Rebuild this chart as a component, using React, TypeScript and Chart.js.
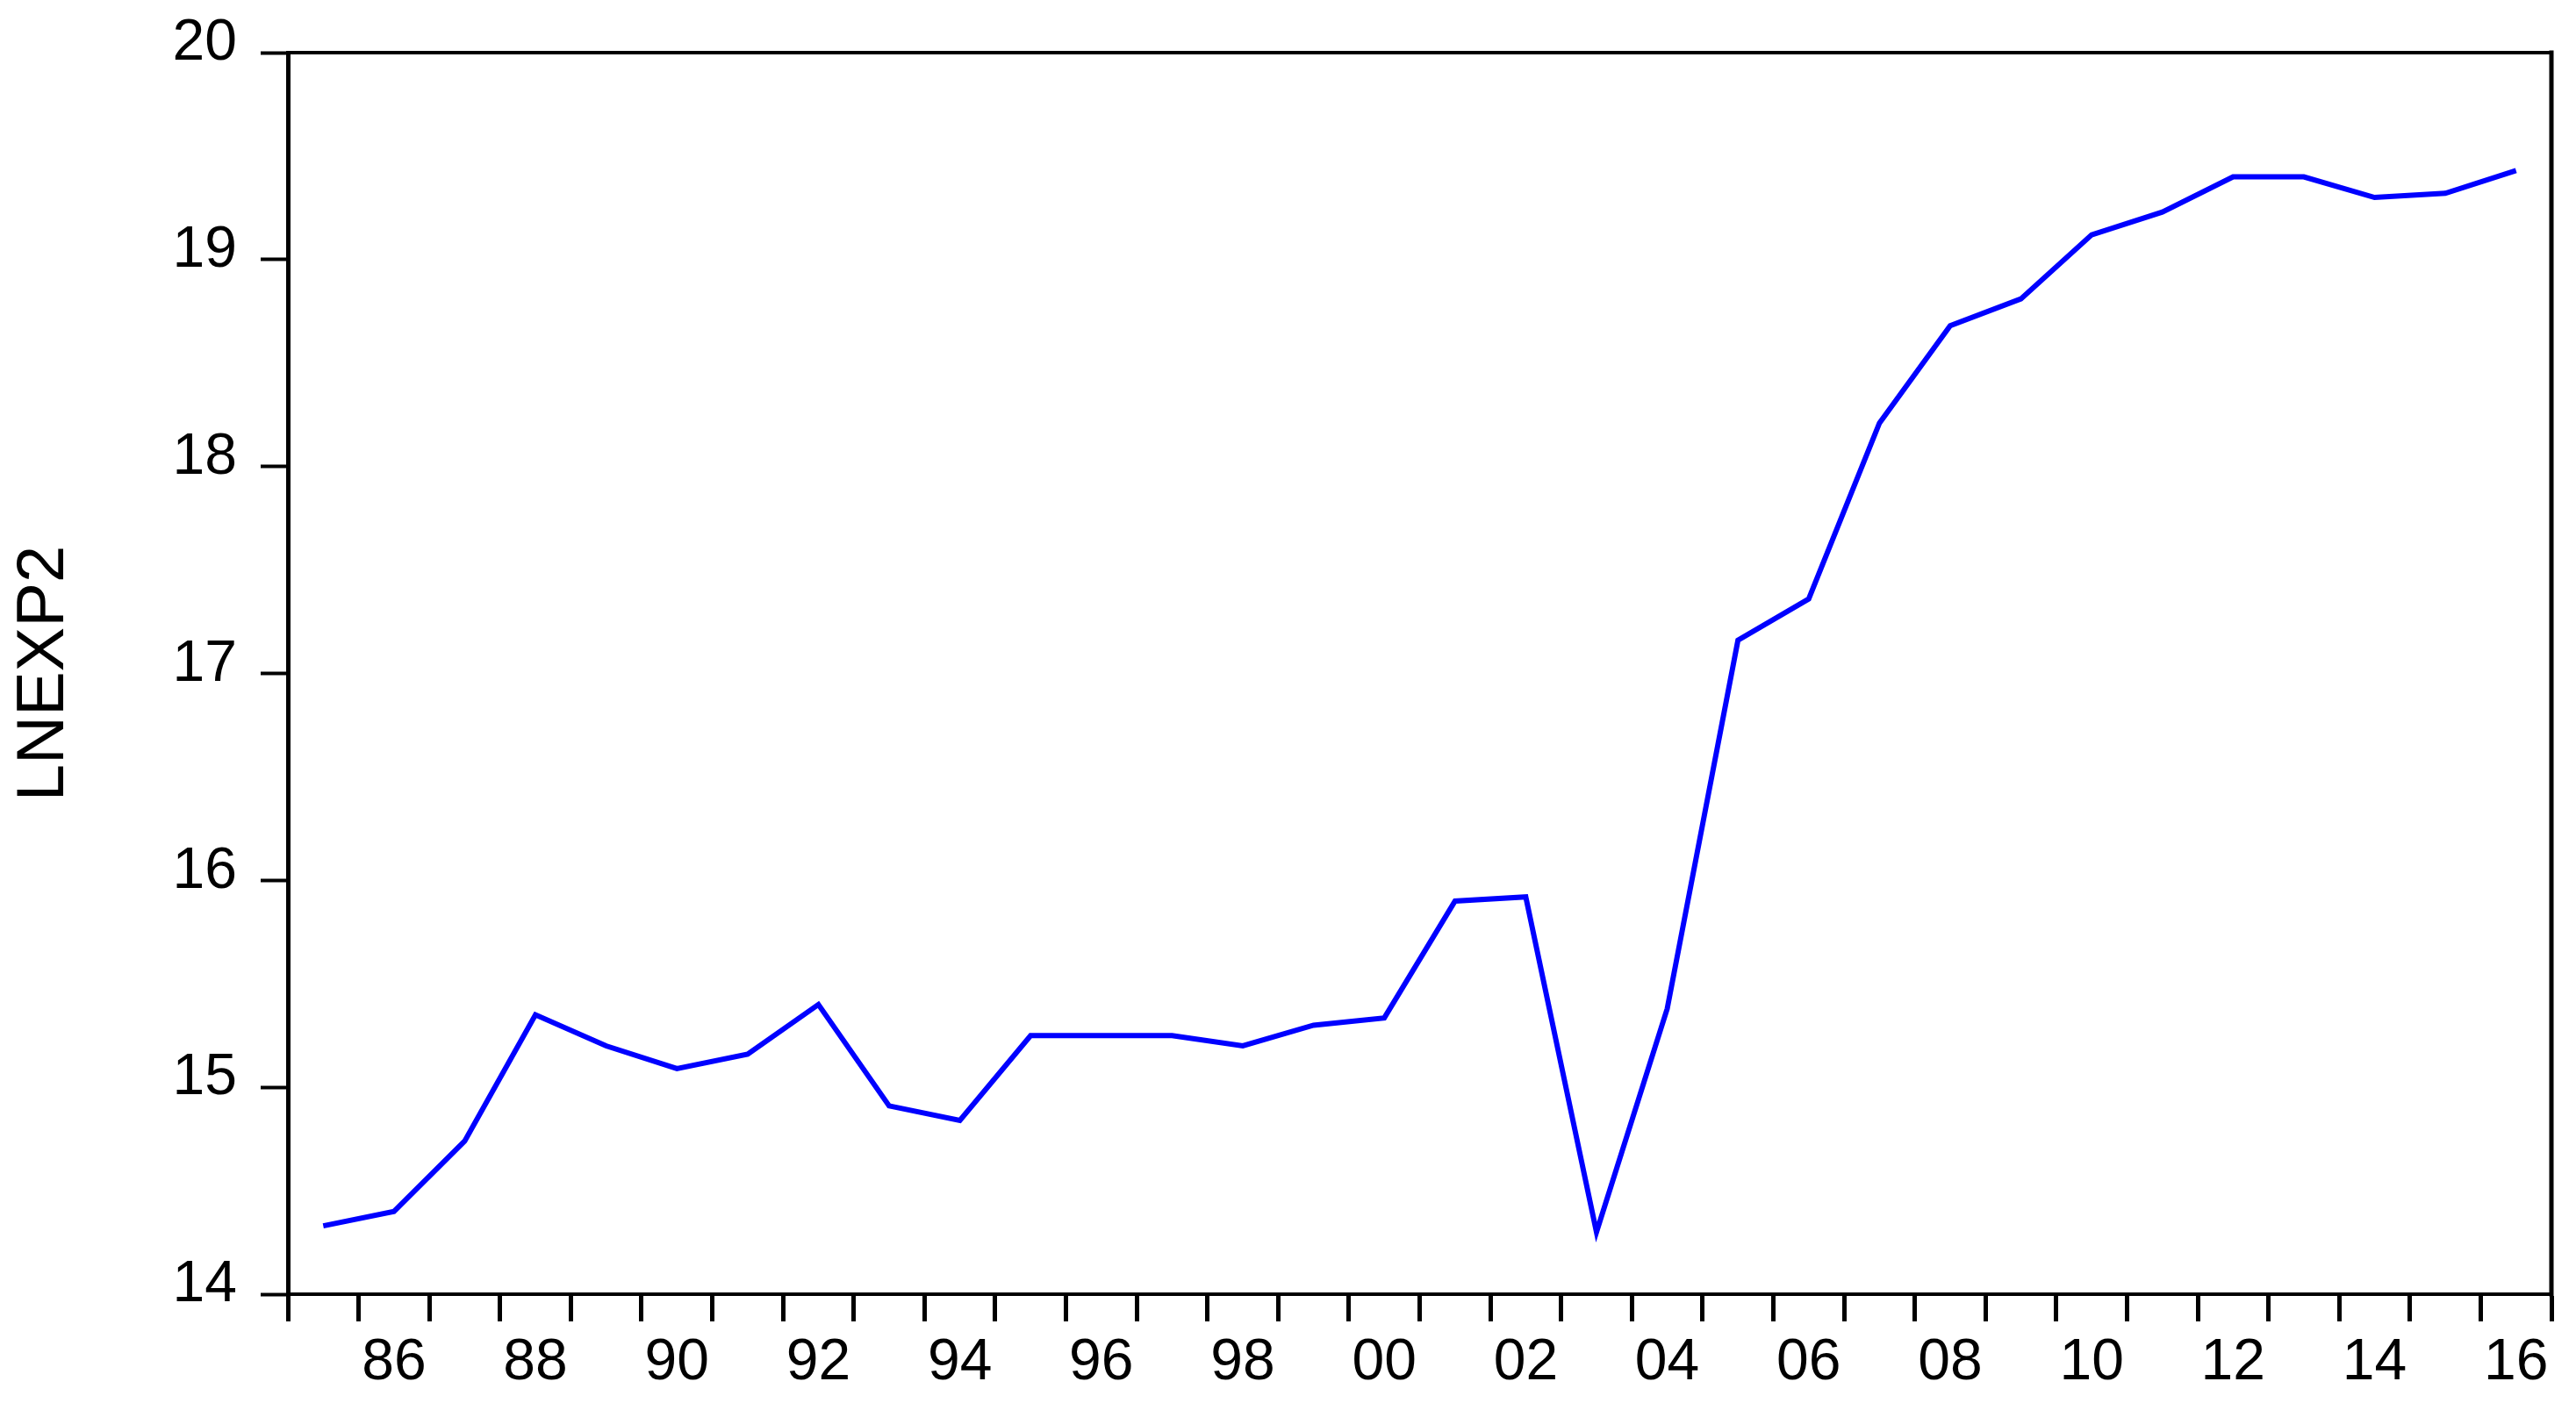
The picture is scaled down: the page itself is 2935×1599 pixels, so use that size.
import React, { useEffect, useRef } from "react";
import { Chart, registerables } from "chart.js";

Chart.register(...registerables);

const years: number[] = [
  1985, 1986, 1987, 1988, 1989, 1990, 1991, 1992, 1993, 1994, 1995, 1996,
  1997, 1998, 1999, 2000, 2001, 2002, 2003, 2004, 2005, 2006, 2007, 2008,
  2009, 2010, 2011, 2012, 2013, 2014, 2015, 2016,
];

const lnexp2: number[] = [
  14.33, 14.4, 14.74, 15.35, 15.2, 15.09, 15.16, 15.4, 14.91, 14.84, 15.25,
  15.25, 15.25, 15.2, 15.3, 15.335, 15.9, 15.92, 14.3, 15.38, 17.16, 17.36,
  18.21, 18.68, 18.81, 19.12, 19.23, 19.4, 19.4, 19.3, 19.32, 19.43,
];

const xTickYears: number[] = [
  1986, 1988, 1990, 1992, 1994, 1996, 1998, 2000, 2002, 2004, 2006, 2008,
  2010, 2012, 2014, 2016,
];

const yMin = 14;
const yMax = 20;
const yStep = 1;

const seriesName = "LNEXP2";

const FONT = "'Liberation Sans', Arial, Helvetica, sans-serif";

const framePlugin = {
  id: "frame",
  afterDatasetsDraw(chart: any) {
    const { ctx, chartArea } = chart;
    ctx.save();
    ctx.strokeStyle = "#000000";
    ctx.lineCap = "square";
    ctx.lineWidth = 4;
    ctx.beginPath();
    ctx.moveTo(chartArea.left, chartArea.top);
    ctx.lineTo(chartArea.right, chartArea.top);
    ctx.stroke();
    ctx.lineWidth = 5;
    ctx.beginPath();
    ctx.moveTo(chartArea.right, chartArea.top);
    ctx.lineTo(chartArea.right, chartArea.bottom);
    ctx.stroke();
    ctx.restore();
  },
};

export default function App() {
  const canvasRef = useRef<HTMLCanvasElement | null>(null);

  useEffect(() => {
    document.body.style.margin = "0";
    const canvas = canvasRef.current;
    if (!canvas) return;
    const chart = new Chart(canvas, {
      type: "line",
      data: {
        labels: years.map((y) => String(y)),
        datasets: [
          {
            label: seriesName,
            data: lnexp2,
            borderColor: "#0000ff",
            backgroundColor: "#0000ff",
            borderWidth: 6,
            pointRadius: 0,
            tension: 0,
            fill: false,
          },
        ],
      },
      options: {
        animation: false,
        responsive: false,
        devicePixelRatio: 1,
        layout: { padding: { top: 60, right: 28, left: 0, bottom: 0 } },
        plugins: {
          legend: { display: false },
          tooltip: { enabled: false },
        },
        scales: {
          x: {
            type: "category",
            offset: true,
            afterFit(scale: any) {
              scale.height = 124;
              scale.paddingLeft = 0;
              scale.paddingRight = 0;
            },
            grid: {
              offset: true,
              drawOnChartArea: false,
              drawTicks: true,
              tickLength: 31,
              tickWidth: 5,
              color: "#000000",
            },
            border: { display: true, color: "#000000", width: 4 },
            ticks: {
              autoSkip: false,
              maxRotation: 0,
              minRotation: 0,
              padding: 8,
              color: "#000000",
              font: { family: FONT, size: 66 },
              callback(_v: any, idx: number) {
                const yr = years[idx];
                return xTickYears.includes(yr) ? String(yr).slice(2) : "";
              },
            },
          },
          y: {
            min: yMin,
            max: yMax,
            afterFit(scale: any) {
              scale.width = 328;
              scale.paddingTop = 0;
              scale.paddingBottom = 0;
            },
            grid: {
              drawOnChartArea: false,
              drawTicks: true,
              tickLength: 31,
              tickWidth: 4,
              color: "#000000",
            },
            border: { display: true, color: "#000000", width: 5 },
            ticks: {
              stepSize: yStep,
              padding: 27,
              labelOffset: -10,
              color: "#000000",
              font: { family: FONT, size: 66 },
            },
            title: {
              display: true,
              text: seriesName,
              color: "#000000",
              font: { family: FONT, size: 76 },
              padding: { top: 5, bottom: 0 },
            },
          },
        },
      },
      plugins: [framePlugin],
    });
    return () => chart.destroy();
  }, []);

  return (
    <div style={{ width: 2935, height: 1599, background: "#ffffff" }}>
      <canvas ref={canvasRef} width={2935} height={1599} />
    </div>
  );
}
